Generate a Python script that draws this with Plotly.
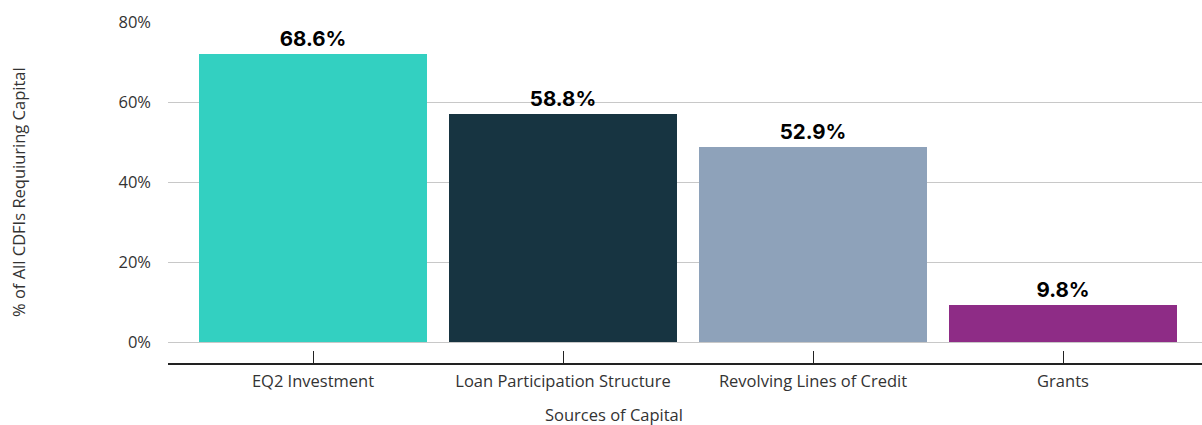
import plotly.graph_objects as go

categories = ["EQ2 Investment", "Loan Participation Structure", "Revolving Lines of Credit", "Grants"]
bar_values = [72.0, 57.0, 48.75, 9.25]
label_texts = ["68.6%", "58.8%", "52.9%", "9.8%"]
bar_colors = ["#33d0c1", "#173441", "#8ea2ba", "#8e2c86"]
y_tick_vals = [0, 20, 40, 60, 80]
y_tick_text = ["0%", "20%", "40%", "60%", "80%"]

W, H = 1202, 425
ml, mr, mt, mb = 168, 0, 22, 61
plot_h = H - mt - mb  # 342
y_bottom_frac = 22 / plot_h
FS = 16.5

fig = go.Figure(go.Bar(
    x=categories, y=bar_values, marker=dict(color=bar_colors, line=dict(width=0)),
    text=label_texts, textposition="outside", cliponaxis=False,
    textfont=dict(family="Inter", size=20.5, color="#000000", weight="bold"),
    hoverinfo="skip",
))

fig.update_layout(
    width=W, height=H, margin=dict(l=ml, r=mr, t=mt, b=mb),
    plot_bgcolor="white", paper_bgcolor="white",
    bargap=0.088, showlegend=False,
    font=dict(family="Open Sans", size=FS, color="#333333"),
    xaxis=dict(
        range=[-0.58, 3.556], anchor="free", position=0,
        showline=True, linecolor="#222222", linewidth=1.5,
        ticks="inside", ticklen=12, tickcolor="#222222", tickwidth=1.2,
        showgrid=False, zeroline=False, ticklabelstandoff=2,
        tickfont=dict(family="Open Sans", size=FS, color="#333333"),
    ),
    yaxis=dict(
        domain=[y_bottom_frac, 1], range=[0, 80],
        tickvals=y_tick_vals, ticktext=y_tick_text,
        showgrid=True, gridcolor="#c8c8c8", gridwidth=1.2,
        zeroline=True, zerolinecolor="#c8c8c8", zerolinewidth=1.2,
        showline=False, ticks="", ticklabelstandoff=16,
        tickfont=dict(family="Open Sans", size=FS, color="#333333"),
    ),
    annotations=[
        dict(text="Sources of Capital", xref="paper", yref="paper",
             x=(614 - ml) / (W - ml - mr), y=-(414 - (H - mb)) / plot_h,
             xanchor="center", yanchor="middle", showarrow=False,
             font=dict(family="Open Sans", size=FS, color="#333333")),
        dict(text="% of All CDFIs Requiuring Capital", xref="paper", yref="paper",
             x=-(ml - 18) / (W - ml - mr), y=(H - mb - 192) / plot_h,
             xanchor="center", yanchor="middle", textangle=-90, showarrow=False,
             font=dict(family="Open Sans", size=FS, color="#333333")),
    ],
)

fig.write_html("out.html")
